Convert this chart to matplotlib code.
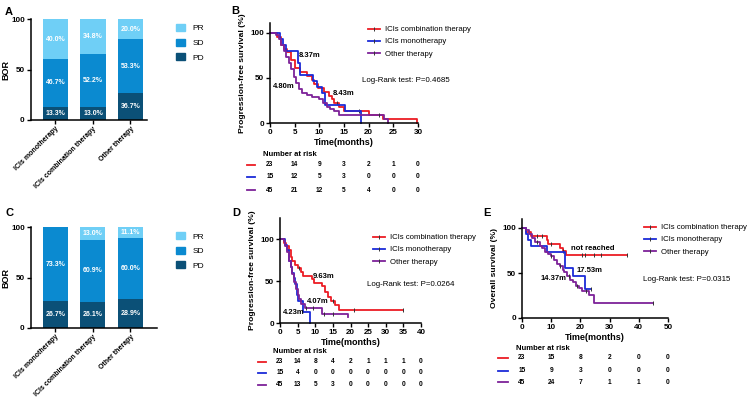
import numpy as np
import matplotlib
matplotlib.use("Agg")
import matplotlib.pyplot as plt
from matplotlib.lines import Line2D
from matplotlib.patches import Patch

plt.rcParams['font.family'] = ['Liberation Sans', 'DejaVu Sans']

# ---------------- data: best overall response (%)
groups = ["ICIs monotherapy", "ICIs combination therapy", "Other therapy"]
# bar heights as drawn
a_pd = [13.3, 13.0, 26.7]
a_sd = [46.7, 52.2, 53.3]
a_pr = [40.0, 34.8, 20.0]
# printed labels (the original prints 36.7% on a 26.7 segment)
a_pd_lab = ["13.3%", "13.0%", "36.7%"]
a_sd_lab = ["46.7%", "52.2%", "53.3%"]
a_pr_lab = ["40.0%", "34.8%", "20.0%"]
c_pd = [26.7, 26.1, 28.9]
c_sd = [73.3, 60.9, 60.0]
c_pr = [0.0, 13.0, 11.1]
c_pd_lab = ["26.7%", "26.1%", "28.9%"]
c_sd_lab = ["73.3%", "60.9%", "60.0%"]
c_pr_lab = ["", "13.0%", "11.1%"]

# ---------------- data: Kaplan-Meier steps (time in months, survival %)
series_names = ["ICIs combination therapy", "ICIs monotherapy", "Other therapy"]

b_comb_t = [0, 1.5, 2.2, 2.8, 3.5, 4.3, 5.0, 6.0, 7.6, 8.43, 9.0, 9.8, 11.0, 12.0, 12.5, 13.0, 14.0, 15.0, 20.0, 23.0, 29.8]
b_comb_s = [100, 95.7, 87.0, 82.6, 78.3, 69.6, 60.9, 56.5, 52.2, 47.8, 43.5, 39.1, 34.8, 30.4, 26.1, 21.7, 17.4, 13.0, 8.7, 4.3, 0]
b_mono_t = [0, 2.0, 2.7, 3.2, 5.7, 6.0, 8.8, 9.5, 10.5, 11.2, 15.2, 18.4]
b_mono_s = [100, 93.3, 86.7, 80.0, 66.7, 53.3, 46.7, 40.0, 33.3, 20.0, 13.3, 0]
b_oth_t = [0, 1.2, 1.8, 2.3, 2.8, 3.3, 3.8, 4.3, 4.8, 5.3, 5.8, 6.5, 7.5, 8.5, 10.0, 10.8, 11.5, 12.2, 13.0, 14.0, 23.2, 24.0]
b_oth_s = [100, 97.8, 93.3, 86.7, 80.0, 73.3, 66.7, 60.0, 51.1, 44.4, 37.8, 33.3, 31.1, 28.9, 26.7, 22.2, 17.8, 15.6, 13.3, 8.9, 4.4, 0]
b_end = [29.8, 18.4, 24.0]
b_cens = [[13.5, 18.0], [], [22.0]]

d_comb_t = [0, 1.0, 1.8, 2.5, 3.0, 3.5, 4.2, 5.0, 6.0, 6.5, 9.0, 9.63, 11.8, 12.7, 13.7, 14.6, 15.6, 16.8]
d_comb_s = [100, 95.7, 91.3, 87.0, 78.3, 73.9, 69.6, 65.2, 60.9, 56.5, 52.2, 47.8, 43.5, 37.0, 31.0, 26.1, 21.7, 15.0]
d_mono_t = [0, 1.5, 2.0, 2.5, 3.0, 3.5, 4.0, 4.23, 4.8, 5.2, 6.6, 8.5]
d_mono_s = [100, 93.3, 86.7, 73.3, 66.7, 60.0, 53.3, 46.7, 33.3, 26.7, 13.3, 0]
d_oth_t = [0, 1.0, 1.5, 2.0, 2.5, 3.0, 3.5, 4.07, 4.5, 5.0, 5.5, 6.0, 7.0, 11.8, 19.3]
d_oth_s = [100, 97.8, 91.1, 84.4, 73.3, 66.7, 57.8, 48.9, 40.0, 33.3, 28.9, 22.2, 17.8, 11.1, 6.7]
d_end = [35.0, 8.5, 19.3]
d_cens = [[5.5, 15.0, 21.0, 35.0], [], [7.5, 9.5, 12.5, 15.0]]

e_comb_t = [0, 1.5, 3.0, 8.5, 9.0, 13.0, 14.0, 15.0]
e_comb_s = [100, 95.7, 91.3, 87.0, 82.6, 78.3, 73.9, 69.6]
e_mono_t = [0, 1.5, 2.0, 3.0, 8.5, 14.8, 17.5, 21.7]
e_mono_s = [100, 93.3, 86.7, 80.0, 73.3, 56.0, 46.7, 32.0]
e_oth_t = [0, 1.5, 2.5, 3.5, 4.5, 6.0, 7.0, 8.0, 9.0, 10.0, 11.0, 12.0, 13.0, 14.0, 14.4, 15.5, 16.5, 17.5, 18.5, 19.5, 20.5, 23.0, 24.8]
e_oth_s = [100, 97.8, 93.3, 88.9, 84.4, 80.0, 77.8, 73.3, 71.1, 68.9, 64.4, 60.0, 57.8, 53.3, 51.1, 46.7, 42.2, 40.0, 35.6, 33.3, 30.0, 25.5, 17.0]
e_end = [36.0, 23.6, 45.0]
e_cens = [[5.0, 7.0, 10.0, 14.0, 20.5, 21.5, 24.5, 27.0, 36.0], [23.6], [5.0, 10.0, 13.0, 16.0, 19.0, 22.0, 45.0]]

# ---------------- data: numbers at risk
b_ticks = [0, 5, 10, 15, 20, 25, 30]
b_risk = [[23, 14, 9, 3, 2, 1, 0], [15, 12, 5, 3, 0, 0, 0], [45, 21, 12, 5, 4, 0, 0]]
d_ticks = [0, 5, 10, 15, 20, 25, 30, 35, 40]
d_risk = [[23, 14, 8, 4, 2, 1, 1, 1, 0], [15, 4, 0, 0, 0, 0, 0, 0, 0], [45, 13, 5, 3, 0, 0, 0, 0, 0]]
e_ticks = [0, 10, 20, 30, 40, 50]
e_risk = [[23, 15, 8, 2, 0, 0], [15, 9, 3, 0, 0, 0], [45, 24, 7, 1, 1, 0]]

bar_cols = {"PR": "#6fcff6", "SD": "#0b8ad0", "PD": "#0b5077"}
km_cols = ["#ec1c24", "#1b2bd8", "#7d2299"]

W, H = 748, 405
fig = plt.figure(figsize=(W / 100, H / 100), dpi=100)


def axes_px(l, t, r, b):
    return fig.add_axes([l / W, 1 - b / H, (r - l) / W, (b - t) / H])


def style(ax):
    for s in ["top", "right"]:
        ax.spines[s].set_visible(False)
    for s in ["left", "bottom"]:
        ax.spines[s].set_linewidth(1.1)
    ax.tick_params(width=1.0, length=3, labelsize=5.8, pad=1.5)
    for lab in ax.get_xticklabels() + ax.get_yticklabels():
        lab.set_fontweight("bold")


def bar_panel(ax, pd_, sd_, pr_, labs, right_lim, leg_y):
    x = np.arange(len(groups))
    ax.bar(x, pd_, width=0.67, color=bar_cols["PD"])
    ax.bar(x, sd_, width=0.67, bottom=pd_, color=bar_cols["SD"])
    ax.bar(x, pr_, width=0.67, bottom=np.array(pd_) + np.array(sd_), color=bar_cols["PR"])
    for i in range(len(groups)):
        base = 0
        for v, lab in zip([pd_[i], sd_[i], pr_[i]], [labs[0][i], labs[1][i], labs[2][i]]):
            if v > 0:
                ax.text(x[i], base + v / 2, lab, ha="center", va="center",
                        color="white", fontsize=5, fontweight="bold")
            base += v
    ax.set_xlim(-0.65, right_lim)
    ax.set_ylim(0, 100)
    ax.set_yticks([0, 50, 100])
    ax.set_xticks(x)
    ax.set_xticklabels(groups, rotation=45, ha="right", rotation_mode="anchor")
    ax.set_ylabel("BOR", fontsize=6.5, fontweight="bold", labelpad=0.5)
    style(ax)
    ax.tick_params(axis="x", labelsize=5.0, pad=1)
    handles = [Patch(color=bar_cols[k]) for k in ["PR", "SD", "PD"]]
    ax.legend(handles, ["PR", "SD", "PD"], loc="upper left", frameon=False,
              bbox_to_anchor=(172 / W, leg_y), bbox_transform=fig.transFigure,
              fontsize=6, handlelength=1.1, handleheight=0.9, handletextpad=0.9,
              labelspacing=0.75, borderpad=0)


def km_panel(ax, curves, ends, cens, ticks, risk, ylim_top, ylabel, meds, logrank,
             leg_xy, rows_y, dash_x, nar_x):
    for (t, s), end, cs, col in zip(curves, ends, cens, km_cols):
        tt = list(t) + [end]
        ss = list(s) + [s[-1]]
        ax.step(tt, ss, where="post", color=col, lw=1.3, clip_on=False)
        if cs:
            idx = np.searchsorted(t, cs, side="right") - 1
            ax.plot(cs, np.array(s)[idx], ls="none", marker="|", ms=3, mew=0.7,
                    color="#333333", clip_on=False)
    ax.set_xlim(ticks[0], ticks[-1])
    ax.set_ylim(0, ylim_top)
    ax.set_xticks(ticks)
    ax.set_yticks([0, 50, 100])
    ax.set_ylabel(ylabel, fontsize=6.1, fontweight="bold", labelpad=3)
    ax.set_xlabel("Time(months)", fontsize=6.5, fontweight="bold", labelpad=1.5)
    style(ax)
    for txt, xx, yy in meds:
        ax.text(xx, yy, txt, fontsize=5.5, fontweight="bold", va="center", ha="left")
    ax.text(logrank[0], logrank[1], logrank[2], fontsize=5.7, va="center", ha="left")
    handles = [Line2D([], [], color=c, lw=1.3, marker="|", ms=3, mew=0.7, mec="#333333")
               for c in km_cols]
    ax.legend(handles, series_names, loc="upper left", frameon=False,
              bbox_to_anchor=leg_xy, bbox_transform=fig.transFigure, fontsize=5.6,
              handlelength=1.6, handletextpad=0.6, labelspacing=0.6, borderpad=0)
    trans = ax.get_xaxis_transform()
    ax.text(nar_x, rows_y[0], "Number at risk", transform=trans, fontsize=5.5,
            fontweight="bold", va="center", ha="left")
    for r, row in enumerate(risk):
        yy = rows_y[r + 1]
        ax.add_line(Line2D(dash_x, [yy, yy], color=km_cols[r], lw=1.3,
                           transform=trans, clip_on=False))
        for xt, n in zip(ticks, row):
            ax.text(xt, yy, str(n), transform=trans, fontsize=4.8,
                    fontweight="bold", va="center", ha="center")


# ---------------- panel A
axA = axes_px(31, 19, 147, 120)
bar_panel(axA, a_pd, a_sd, a_pr, [a_pd_lab, a_sd_lab, a_pr_lab], 2.44, 1 - 20 / H)

# ---------------- panel C
axC = axes_px(31, 227, 157, 328)
bar_panel(axC, c_pd, c_sd, c_pr, [c_pd_lab, c_sd_lab, c_pr_lab], 2.71, 1 - 228 / H)

# ---------------- panel B
axB = axes_px(270, 23, 418, 123)
km_panel(axB, [(b_comb_t, b_comb_s), (b_mono_t, b_mono_s), (b_oth_t, b_oth_s)],
         b_end, b_cens, b_ticks, b_risk, 111, "Progression-free survival (%)",
         [("8.37m", 5.9, 75), ("4.80m", 0.6, 40), ("8.43m", 12.8, 33)],
         (18.6, 47, "Log-Rank test: P=0.4685"), (364 / W, 1 - 22 / H),
         [-0.32, -0.42, -0.54, -0.67], [-4.7, -3.0], -1.4)

# ---------------- panel D
axD = axes_px(280, 218, 421, 323)
km_panel(axD, [(d_comb_t, d_comb_s), (d_mono_t, d_mono_s), (d_oth_t, d_oth_s)],
         d_end, d_cens, d_ticks, d_risk, 125, "Progression-free survival (%)",
         [("9.63m", 9.4, 55), ("4.07m", 7.6, 26), ("4.23m", 0.9, 13)],
         (24.7, 46, "Log-Rank test: P=0.0264"), (369 / W, 1 - 230 / H),
         [-0.276, -0.37, -0.476, -0.59], [-6.2, -4.0], -2.0)

# ---------------- panel E
axE = axes_px(522, 219, 668, 318)
km_panel(axE, [(e_comb_t, e_comb_s), (e_mono_t, e_mono_s), (e_oth_t, e_oth_s)],
         e_end, e_cens, e_ticks, e_risk, 110, "Overall survival (%)",
         [("not reached", 16.8, 77), ("17.53m", 18.8, 53), ("14.37m", 6.2, 44)],
         (41.4, 43, "Log-Rank test: P=0.0315"), (640 / W, 1 - 220 / H),
         [-0.31, -0.40, -0.535, -0.65], [-8.2, -4.8], -2.0)

# ---------------- panel letters
for letter, px, py in [("A", 5, 12), ("B", 231, 11), ("C", 5, 213), ("D", 232, 213), ("E", 483, 213)]:
    fig.text(px / W, 1 - py / H, letter, fontsize=8, fontweight="bold", va="center", ha="left")

fig.savefig("out.png", dpi=100)
